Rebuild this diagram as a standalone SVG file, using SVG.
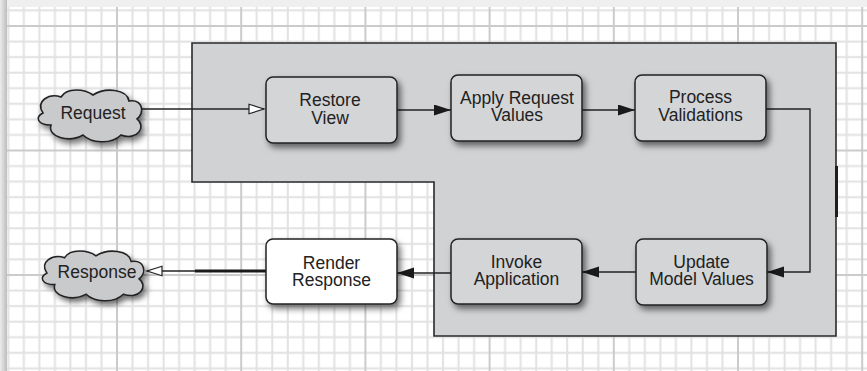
<svg xmlns="http://www.w3.org/2000/svg" width="867" height="371" viewBox="0 0 867 371">
<style>
.t{font-family:"Liberation Sans",Arial,Helvetica,sans-serif;font-size:17.5px;fill:#222;text-anchor:middle}
.node{fill:#d4d5d7;stroke:#222;stroke-width:1.5}
.cloud{fill:#c9cacc;stroke:#222;stroke-width:1.6}
.con{fill:none;stroke:#222;stroke-width:1.4}
</style>
<defs>
<pattern id="grid" patternUnits="userSpaceOnUse" x="116" y="25" width="124.2" height="124.5">
<rect width="124.2" height="124.5" fill="#fff"/>
<g fill="#e2e2e2">
<rect x="15.5" y="0" width="2" height="124.5"/><rect x="31.05" y="0" width="2" height="124.5"/><rect x="46.6" y="0" width="2" height="124.5"/><rect x="62.1" y="0" width="2" height="124.5"/><rect x="77.6" y="0" width="2" height="124.5"/><rect x="93.15" y="0" width="2" height="124.5"/><rect x="108.7" y="0" width="2" height="124.5"/>
<rect y="15.56" x="0" height="2" width="124.2"/><rect y="31.1" x="0" height="2" width="124.2"/><rect y="46.7" x="0" height="2" width="124.2"/><rect y="62.2" x="0" height="2" width="124.2"/><rect y="77.8" x="0" height="2" width="124.2"/><rect y="93.4" x="0" height="2" width="124.2"/><rect y="108.9" x="0" height="2" width="124.2"/>
</g>
<g fill="#cbcbcb">
<rect x="0" y="0" width="2" height="124.5"/><rect x="0" y="0" width="124.2" height="2"/>
</g>
</pattern>
<linearGradient id="lstrip" x1="0" y1="0" x2="1" y2="0">
<stop offset="0" stop-color="#ececec"/><stop offset="1" stop-color="#bdbdbd"/>
</linearGradient>
<filter id="sh" x="-20%" y="-20%" width="150%" height="160%">
<feDropShadow dx="3" dy="4" stdDeviation="3" flood-color="#000" flood-opacity="0.55"/>
</filter>
<marker id="af" markerUnits="userSpaceOnUse" markerWidth="18" markerHeight="12" refX="17" refY="5.5" orient="auto">
<path d="M0,0 L17,5.5 L0,11 z" fill="#1a1a1a"/>
</marker>
<marker id="ao" markerUnits="userSpaceOnUse" markerWidth="18" markerHeight="13" refX="16" refY="6" orient="auto">
<path d="M1,1.2 L16,6 L1,10.8 z" fill="#fff" stroke="#222" stroke-width="1.2"/>
</marker>
<path id="cloudShape" d="M-48,-2 C-56,-14 -42,-22 -30,-18 C-24,-28 -6,-26 2,-20 C14,-28 36,-26 38,-14 C52,-16 54,-2 46,4 C56,12 46,26 30,20 C20,30 0,28 -8,20 C-22,28 -44,22 -40,10 C-54,10 -56,2 -48,-2 Z"/>
</defs>

<rect x="0" y="0" width="867" height="371" fill="url(#grid)"/>
<rect x="0" y="0" width="867" height="7" fill="#efefef"/>
<rect x="0" y="0" width="7" height="371" fill="url(#lstrip)"/>

<g id="panel">
<path d="M192,43 H836 V336 H434 V182 H192 Z" fill="#d1d2d4" stroke="#2a2a2a" stroke-width="1.6"/>
<rect x="835" y="166" width="3" height="51" fill="#1e1e1e"/>
</g>

<g id="connectors">
<path class="con" d="M142,109 H264" marker-end="url(#ao)"/>
<path class="con" d="M397,110 H451" marker-end="url(#af)"/>
<path class="con" d="M582,110 H635" marker-end="url(#af)"/>
<path class="con" d="M766,109 H810 V272 H767" marker-end="url(#af)"/>
<path class="con" d="M636,272 H582" marker-end="url(#af)"/>
<path class="con" d="M451,273 H397" marker-end="url(#af)"/>
<path class="con" d="M266,271 H147" marker-end="url(#ao)"/>
<path d="M266,271 H195" fill="none" stroke="#1a1a1a" stroke-width="3"/>
</g>

<g id="request">
<use href="#cloudShape" class="cloud" transform="translate(91,115)" filter="url(#sh)"/>
<text class="t" x="93" y="118.5">Request</text>
</g>
<g id="response">
<use href="#cloudShape" class="cloud" transform="translate(94,275) scale(0.98,0.96)" filter="url(#sh)"/>
<text class="t" x="97" y="277.5">Response</text>
</g>

<g id="restore-view">
<rect class="node" x="266" y="77" width="131" height="66" rx="7" filter="url(#sh)"/>
<text class="t" x="330" y="106">Restore</text>
<text class="t" x="330" y="123.5">View</text>
</g>
<g id="apply-request-values">
<rect class="node" x="451" y="75" width="131" height="66" rx="7" filter="url(#sh)"/>
<text class="t" x="517" y="103.5">Apply Request</text>
<text class="t" x="517" y="121">Values</text>
</g>
<g id="process-validations">
<rect class="node" x="635" y="75" width="131" height="66" rx="7" filter="url(#sh)"/>
<text class="t" x="700.5" y="103">Process</text>
<text class="t" x="700.5" y="121">Validations</text>
</g>
<g id="update-model-values">
<rect class="node" x="636" y="239" width="131" height="66" rx="7" filter="url(#sh)"/>
<text class="t" x="701.5" y="267.5">Update</text>
<text class="t" x="701.5" y="285">Model Values</text>
</g>
<g id="invoke-application">
<rect class="node" x="451" y="239" width="131" height="65" rx="7" filter="url(#sh)"/>
<text class="t" x="516.5" y="267.5">Invoke</text>
<text class="t" x="516.5" y="285">Application</text>
</g>
<g id="render-response">
<rect class="node" x="266" y="239" width="131" height="65" rx="7" fill="#fff" style="fill:#fff" filter="url(#sh)"/>
<text class="t" x="331.5" y="268.5">Render</text>
<text class="t" x="331.5" y="286">Response</text>
</g>
</svg>
